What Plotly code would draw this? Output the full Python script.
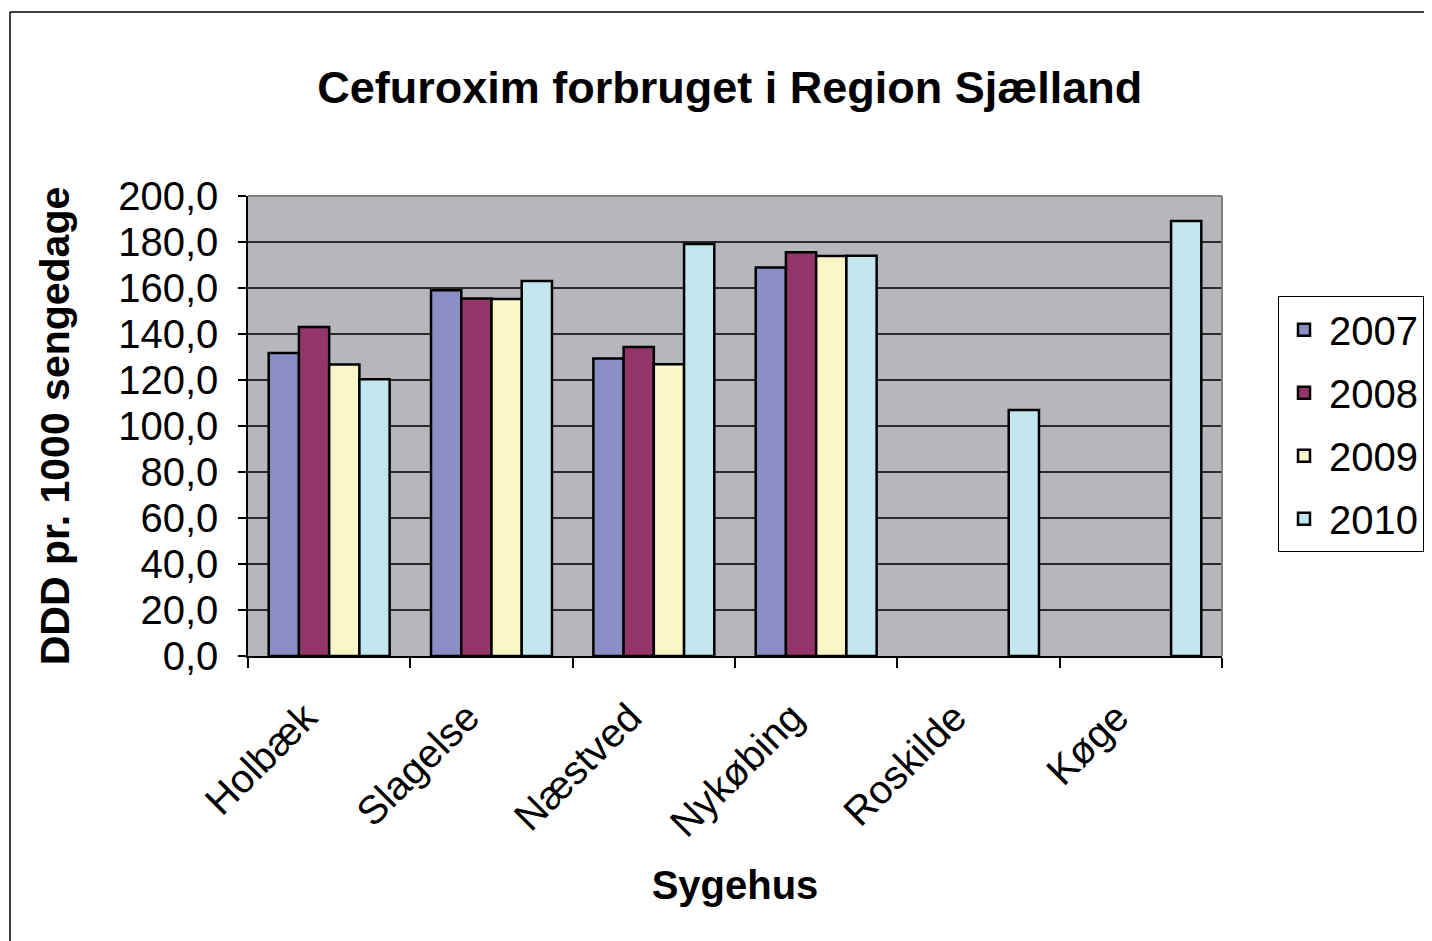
import plotly.graph_objects as go

categories = ["Holbæk", "Slagelse", "Næstved", "Nykøbing", "Roskilde", "Køge"]
years = ["2007", "2008", "2009", "2010"]
v2007 = [131.7, 159.0, 129.3, 168.9, None, None]
v2008 = [143.0, 155.4, 134.3, 175.5, None, None]
v2009 = [126.7, 155.2, 126.8, 173.9, None, None]
v2010 = [120.3, 163.0, 179.1, 174.0, 107.0, 189.1]
series = [v2007, v2008, v2009, v2010]
colors = ["#8b8ec5", "#93366a", "#f9f7c8", "#c2e6ee"]

FONT = "Arial, Liberation Sans, sans-serif"

fig = go.Figure()
for i, (yr, vals) in enumerate(zip(years, series)):
    fig.add_trace(go.Bar(
        x=categories, y=vals, name=yr,
        marker=dict(color=colors[i], line=dict(color="black", width=2.5)),
        legendgroup=yr,
    ))

fig.update_layout(
    width=1432, height=941,
    barmode="group", bargap=0.255, bargroupgap=0,
    separators=",.",
    paper_bgcolor="white", plot_bgcolor="#b6b7bb",
    margin=dict(l=240, r=218, t=188, b=293),
    font=dict(family=FONT, size=40, color="black"),
    title=dict(text="<b>Cefuroxim forbruget i Region Sjælland</b>",
               font=dict(family=FONT, size=45, color="black"),
               x=0.504, xanchor="center", y=0.916, yanchor="middle"),
    showlegend=True,
    legend=dict(x=1.0575, xanchor="left", y=0.504, yanchor="middle",
                bordercolor="black", borderwidth=1, bgcolor="white",
                font=dict(family=FONT, size=40, color="black"),
                tracegroupgap=8, itemwidth=40),
    xaxis=dict(
        showline=True, linecolor="black", linewidth=1.5,
        ticks="outside", ticklen=10, tickcolor="black", tickwidth=1.5,
        tickson="boundaries", tickangle=-45,
        ticklabelshift=-24, ticklabelstandoff=20,
        tickfont=dict(family=FONT, size=40, color="black"),
        title=dict(text="<b>Sygehus</b>", font=dict(family=FONT, size=40, color="black"),
                   standoff=27),
    ),
    yaxis=dict(
        range=[0, 200], dtick=20, tickformat=".1f",
        showline=True, linecolor="black", linewidth=1.5,
        ticks="outside", ticklen=8, tickcolor="black", tickwidth=1.5,
        ticklabelstandoff=12,
        showgrid=True, gridcolor="#2a2a2a", gridwidth=1.5,
        tickfont=dict(family=FONT, size=40, color="black"),
        title=dict(text="<b>DDD pr. 1000 sengedage</b>", font=dict(family=FONT, size=41, color="black"),
                   standoff=36),
        zeroline=False,
    ),
    shapes=[
        dict(type="line", xref="paper", yref="paper", x0=0, x1=1, y0=1, y1=1,
             line=dict(color="#808080", width=2), layer="above"),
        dict(type="line", xref="paper", yref="paper", x0=1, x1=1, y0=0, y1=1,
             line=dict(color="#808080", width=2), layer="above"),
        dict(type="line", xref="paper", yref="paper", x0=-0.2444, x1=1.25, y0=1.4, y1=1.4,
             line=dict(color="black", width=1.5)),
        dict(type="line", xref="paper", yref="paper", x0=-0.2444, x1=-0.2444, y0=1.4, y1=-0.7,
             line=dict(color="black", width=1.5)),
    ],
)

fig.write_html("out.html")
